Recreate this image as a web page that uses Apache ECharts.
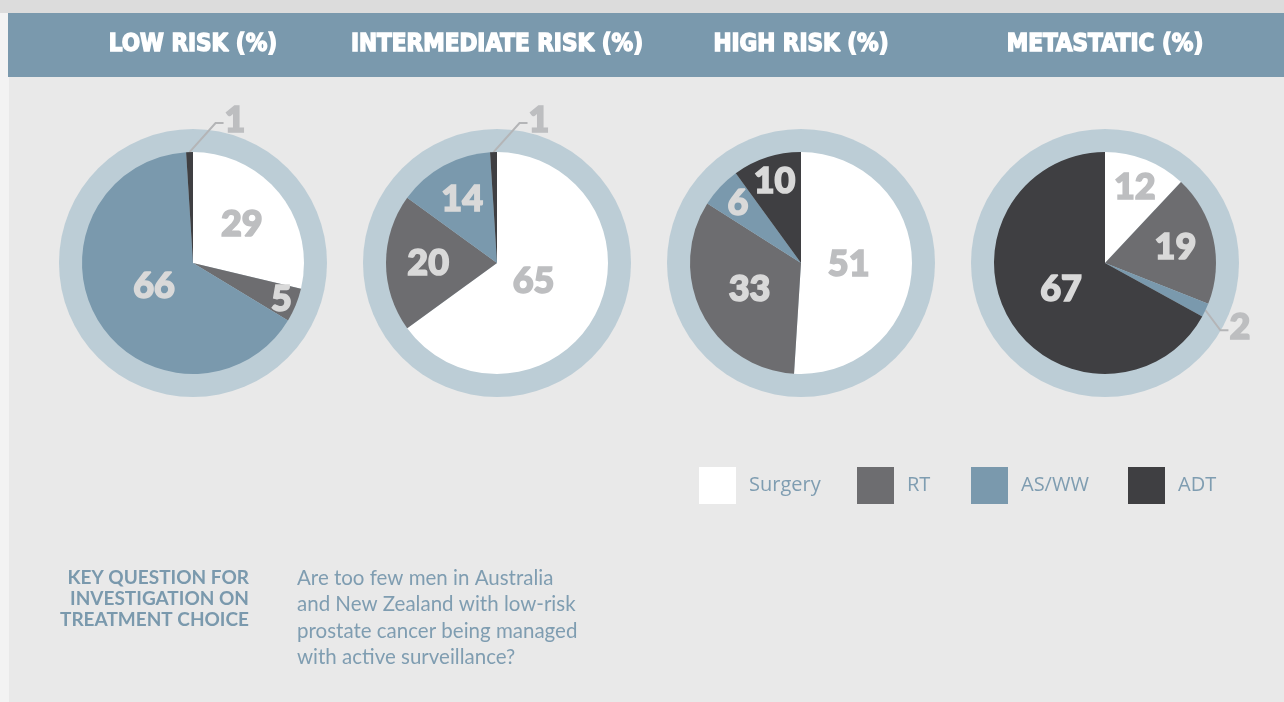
<!DOCTYPE html>
<html>
<head>
<meta charset="utf-8">
<script src="https://cdn.jsdelivr.net/npm/echarts@6/dist/echarts.min.js"></script>
<style>
  html, body { margin: 0; padding: 0; background: #f3f3f3; }
  #chart { width: 1284px; height: 702px; }
</style>
</head>
<body>
<div id="chart"></div>
<script>
// ---- data ----
const categories = ['Surgery', 'RT', 'AS/WW', 'ADT'];
const panelTitles = ['LOW RISK (%)', 'INTERMEDIATE RISK (%)', 'HIGH RISK (%)', 'METASTATIC (%)'];
const lowRisk = [29, 5, 66, 1];
const intermediateRisk = [65, 20, 14, 1];
const highRisk = [51, 33, 6, 10];
const metastatic = [12, 19, 2, 67];
const panelValues = [lowRisk, intermediateRisk, highRisk, metastatic];
const questionHeading = ['KEY QUESTION FOR', 'INVESTIGATION ON', 'TREATMENT CHOICE'];
const questionText = [
  'Are too few men in Australia',
  'and New Zealand with low-risk',
  'prostate cancer being managed',
  'with active surveillance?'
];

// ---- styling / layout ----
const sliceColors = ['#ffffff', '#6d6d70', '#7a99ad', '#3f3f42'];
const ringColor = '#bccdd6';
const PIE_X = [193, 497, 801, 1105];
const PIE_Y = 263;
const R = 111;
const RING_R = 134;
// distance of each value label from the centre, as a share of the radius
const labelRadius = [
  [0.56, 0.86, 0.41, null],
  [0.37, 0.62, 0.65, null],
  [0.43, 0.52, 0.78, 0.77],
  [0.73, 0.65, null, 0.46]
];
// leader lines for thin slices: bend offset from the slice edge
const leaderBend = { '0-3': [26, -29], '1-3': [26, -29], '3-2': [15, 20] };
const numberFont = { fontFamily: 'Lato', fontWeight: 900, fontSize: 36 };
// left edge of each legend entry
const legendLeft = [699, 857, 971, 1128];

function labelLayoutFor(p) {
  const vals = panelValues[p];
  const total = vals.reduce((a, b) => a + b, 0);
  return function (params) {
    const i = params.dataIndex;
    let before = 0;
    for (let k = 0; k < i; k++) before += vals[k];
    const a = (before + vals[i] / 2) / total * 2 * Math.PI;
    const sx = Math.sin(a), sy = -Math.cos(a);
    const bend = leaderBend[p + '-' + i];
    if (bend) {
      const x0 = PIE_X[p] + R * sx, y0 = PIE_Y + R * sy;
      const x1 = x0 + bend[0], y1 = y0 + bend[1];
      const x2 = x1 + 8;
      return {
        x: x2 + 1, y: y1 - 3, align: 'left', verticalAlign: 'middle',
        labelLinePoints: [[x0, y0], [x1, y1], [x2, y1]]
      };
    }
    const k = labelRadius[p][i];
    return {
      x: PIE_X[p] + k * R * sx, y: PIE_Y + k * R * sy,
      align: 'center', verticalAlign: 'middle'
    };
  };
}

const series = [];
panelValues.forEach((vals, p) => {
  series.push({
    type: 'pie',
    silent: true,
    z: 1,
    center: [PIE_X[p], PIE_Y],
    radius: [0, RING_R],
    label: { show: false },
    labelLine: { show: false },
    itemStyle: { color: ringColor },
    data: [{ name: 'ring', value: 1 }]
  });
});
panelValues.forEach((vals, p) => {
  series.push({
    type: 'pie',
    silent: true,
    z: 3,
    center: [PIE_X[p], PIE_Y],
    radius: [0, R],
    startAngle: 90,
    clockwise: true,
    avoidLabelOverlap: false,
    label: Object.assign({ show: true, position: 'inside', formatter: '{c}', textBorderWidth: 1.6 }, numberFont),
    labelLine: { show: false },
    labelLayout: labelLayoutFor(p),
    data: categories.map((name, i) => {
      const outside = !!leaderBend[p + '-' + i];
      const onLight = i === 0 || outside;
      const c = onLight ? '#bdbec0' : '#d9d9d9';
      return {
        name: name,
        value: vals[i],
        itemStyle: { color: sliceColors[i] },
        label: { position: outside ? 'outside' : 'inside', color: c, textBorderColor: c },
        labelLine: outside ? { show: true, lineStyle: { color: '#b4b5b7', width: 2 } } : { show: false }
      };
    })
  });
});

const graphics = [
  { type: 'rect', z: -10, silent: true, shape: { x: 9, y: 0, width: 1275, height: 702 }, style: { fill: '#e9e9e9' } },
  { type: 'rect', z: -9, silent: true, shape: { x: 0, y: 0, width: 1284, height: 13 }, style: { fill: '#dcdcdc' } },
  { type: 'rect', z: -9, silent: true, shape: { x: 8, y: 13, width: 1276, height: 64 }, style: { fill: '#7a99ad' } }
];
panelTitles.forEach((t, p) => {
  graphics.push({
    type: 'text', z: 10, silent: true, x: PIE_X[p], y: 45,
    style: {
      text: t, fill: '#ffffff', align: 'center', verticalAlign: 'middle',
      font: 'bold 24px "DejaVu Sans Condensed", "DejaVu Sans", sans-serif',
      stroke: '#ffffff', lineWidth: 1.4
    }
  });
});
graphics.push({
  type: 'text', z: 10, silent: true, x: 249, y: 567,
  style: {
    text: questionHeading.join('\n'), fill: '#7a99ad', align: 'right', verticalAlign: 'top',
    font: 'bold 19px Lato, sans-serif', lineHeight: 21
  }
});
graphics.push({
  type: 'text', z: 10, silent: true, x: 297, y: 565,
  style: {
    text: questionText.join('\n'), fill: '#7f9db1', align: 'left', verticalAlign: 'top',
    font: '20.5px Lato, sans-serif', lineHeight: 26.4
  }
});

const legends = categories.map((name, i) => ({
  left: legendLeft[i],
  top: 467,
  padding: 0,
  itemWidth: 37,
  itemHeight: 37,
  icon: 'rect',
  selectedMode: false,
  textStyle: { color: '#7f9db1', fontSize: 20, fontFamily: '"Open Sans", sans-serif', padding: [0, 0, 0, 8] },
  data: [{ name: name, itemStyle: { color: sliceColors[i] } }]
}));

const chart = echarts.init(document.getElementById('chart'), null, { renderer: 'canvas' });
chart.setOption({
  backgroundColor: '#f3f3f3',
  animation: false,
  legend: legends,
  graphic: graphics,
  series: series
});
</script>
</body>
</html>
